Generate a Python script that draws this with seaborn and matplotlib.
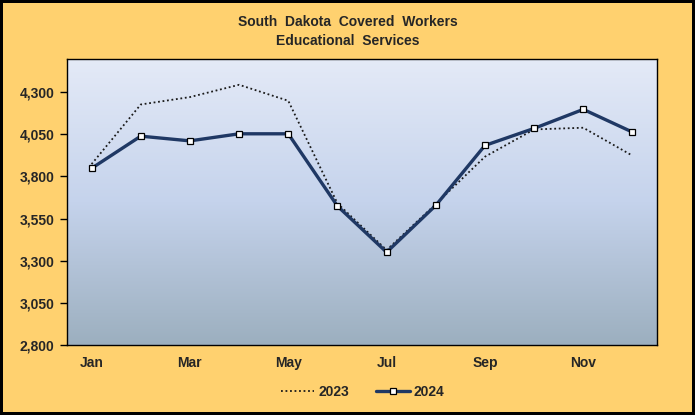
import numpy as np
import pandas as pd
import matplotlib
matplotlib.use('Agg')
import matplotlib.pyplot as plt
import seaborn as sns
from matplotlib.colors import LinearSegmentedColormap

months = ['Jan', 'Feb', 'Mar', 'Apr', 'May', 'Jun', 'Jul', 'Aug', 'Sep', 'Oct', 'Nov', 'Dec']
workers_2023 = [3873, 4227, 4271, 4344, 4249, 3640, 3363, 3636, 3917, 4079, 4089, 3923]
workers_2024 = [3848, 4039, 4011, 4053, 4053, 3624, 3350, 3628, 3984, 4085, 4198, 4063]
y_ticks = [2800, 3050, 3300, 3550, 3800, 4050, 4300]

sns.set_style('white')
plt.rcParams['font.family'] = ['Liberation Sans', 'DejaVu Sans']
plt.rcParams['font.weight'] = 'bold'

bg = '#FFD16F'
fig = plt.figure(figsize=(6.95, 4.15), dpi=100, facecolor=bg, edgecolor='black', linewidth=4)
ax = fig.add_axes([0.0964, 0.169, 0.849, 0.688])

# gradient fill of the plot area
grad = LinearSegmentedColormap.from_list('pa', ['#9CAFBF', '#C5D3EC', '#E4EAF7'])
ax.imshow(np.linspace(0, 1, 256).reshape(-1, 1), cmap=grad, origin='lower', aspect='auto',
          extent=[0, 1, 0, 1], transform=ax.transAxes, zorder=0)

df = pd.DataFrame({'month': months, '2023': workers_2023, '2024': workers_2024})
x = np.arange(len(months))
df['pos'] = x

sns.lineplot(data=df, x='pos', y='2023', ax=ax, color='#1a1a1a', linestyle=(0, (1, 1.5)),
             linewidth=1.3, label='2023', zorder=3)
sns.lineplot(data=df, x='pos', y='2024', ax=ax, color='#1F3864', linewidth=2.4, marker='s',
             markersize=4.5, markerfacecolor='white', markeredgecolor='black', markeredgewidth=0.9,
             label='2024', zorder=4)

ax.set_xlim(-0.5, 11.5)
ax.set_ylim(2800, 4495)
ax.set_yticks(y_ticks)
ax.set_yticklabels([f'{v:,}' for v in y_ticks], fontsize=10, fontweight='bold')
ax.set_xticks(x[::2])
ax.set_xticklabels(months[::2], fontsize=10, fontweight='bold')
ax.set_xticks(np.arange(-0.5, 12, 1), minor=True)
ax.tick_params(axis='x', which='major', length=0, pad=8)
ax.tick_params(axis='x', which='minor', length=5, width=1, direction='out', color='black')
ax.tick_params(axis='y', length=5, width=1, direction='out', color='black', left=True, pad=4)
ax.set_xlabel('')
ax.set_ylabel('')
for s in ax.spines.values():
    s.set_color('black')
    s.set_linewidth(1)
ax.grid(False)

fig.suptitle('South  Dakota  Covered  Workers\nEducational  Services', y=0.965,
             fontsize=10, fontweight='bold', linespacing=1.5)

ax.legend(loc='center', bbox_to_anchor=(0.522, 0.056), bbox_transform=fig.transFigure, ncol=2,
          frameon=False, fontsize=10, handlelength=2.4, columnspacing=1.95, handletextpad=0.3)

fig.savefig('out.png', dpi=100, facecolor=fig.get_facecolor(), edgecolor=fig.get_edgecolor())
